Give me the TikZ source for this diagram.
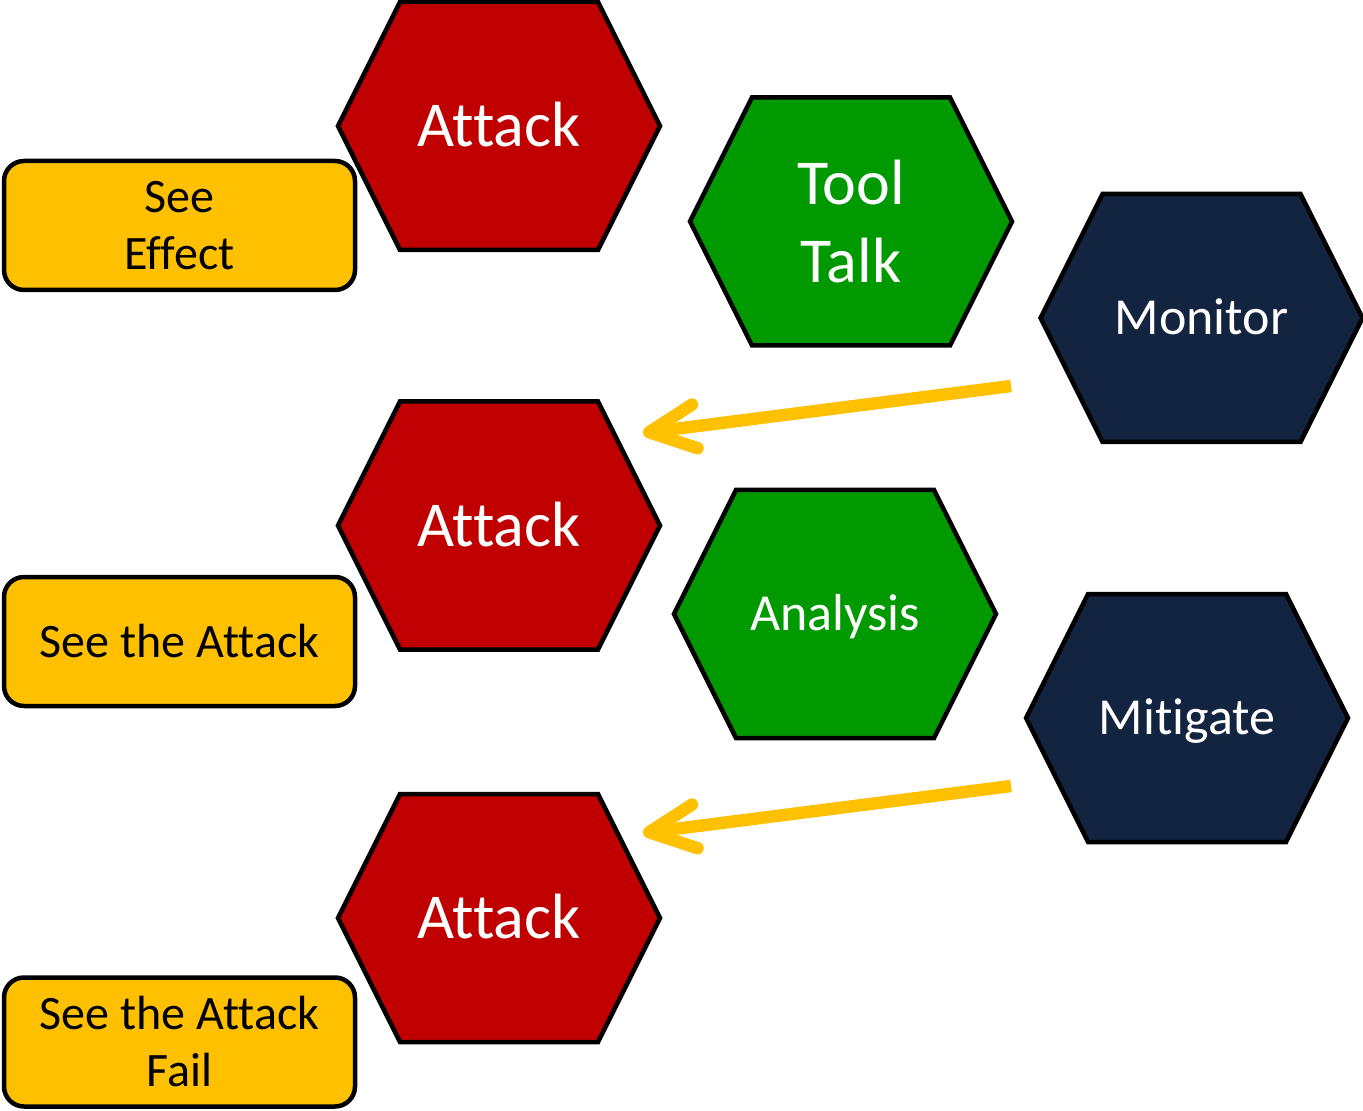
\documentclass[tikz,border=0pt]{standalone}
\usepackage{fontspec}
\setmainfont{Carlito}[Ligatures=NoCommon]
\usetikzlibrary{arrows.meta}
\definecolor{hexred}{HTML}{C00000}
\definecolor{hexgreen}{HTML}{009900}
\definecolor{hexnavy}{HTML}{12243F}
\definecolor{boxyellow}{HTML}{FFC000}
\newcommand\hexat[6]{%
  \draw[hexfill, fill=#4] (#2,#3) ++(-161,0) -- ++(62,-124) -- ++(198,0) -- ++(62,124) -- ++(-62,124) -- ++(-198,0) -- cycle;
  \node[hexlabel, #5] (#1) at (#2,#3) {#6};}
\begin{document}
\begin{tikzpicture}[x=0.5pt,y=-0.5pt,
  hexfill/.style={draw=black, line width=2.25pt, line join=miter},
  hexlabel/.style={text=white, align=center, inner sep=0pt},
  bigtext/.style={font=\fontsize{32}{39}\selectfont},
  bigone/.style={bigtext, text height=20.6pt, text depth=0pt},
  midtext/.style={font=\fontsize{26}{32}\selectfont, text height=16.7pt, text depth=0pt},
  notebox/.style={draw=black, line width=2.25pt, fill=boxyellow, rounded corners=10pt,
    minimum width=175.5pt, minimum height=64.5pt, align=center,
    font=\fontsize{24}{28.5}\selectfont, inner sep=0pt},
  flow/.style={draw=boxyellow, line width=6.2pt, -{Straight Barb[round,length=23pt,width=22pt]}}
]
\useasboundingbox (0,0) rectangle (1363,1111);

\hexat{atk1}{499}{126}{hexred}{bigone}{Attack}
\hexat{tool}{851}{221.5}{hexgreen}{bigtext}{Tool\\Talk}
\hexat{mon}{1201.5}{318}{hexnavy}{midtext}{Monitor}
\hexat{atk2}{499}{525.5}{hexred}{bigone}{Attack}
\hexat{ana}{835}{614}{hexgreen}{midtext}{Analysis}
\hexat{mit}{1187}{718}{hexnavy}{midtext}{Mitigate}
\hexat{atk3}{499}{918}{hexred}{bigone}{Attack}

\node[notebox] (see1) at (179.5,225.5) {See\\Effect};
\node[notebox] (see2) at (179.5,641.5) {See the Attack};
\node[notebox] (see3) at (179.5,1042) {See the Attack\\Fail};

\coordinate (m1) at (1011,386);
\coordinate (t1) at (643,433);
\coordinate (m2) at (1011,786);
\coordinate (t2) at (643,833);
\draw[flow] (m1) -- (t1);
\draw[flow] (m2) -- (t2);
\end{tikzpicture}
\end{document}
